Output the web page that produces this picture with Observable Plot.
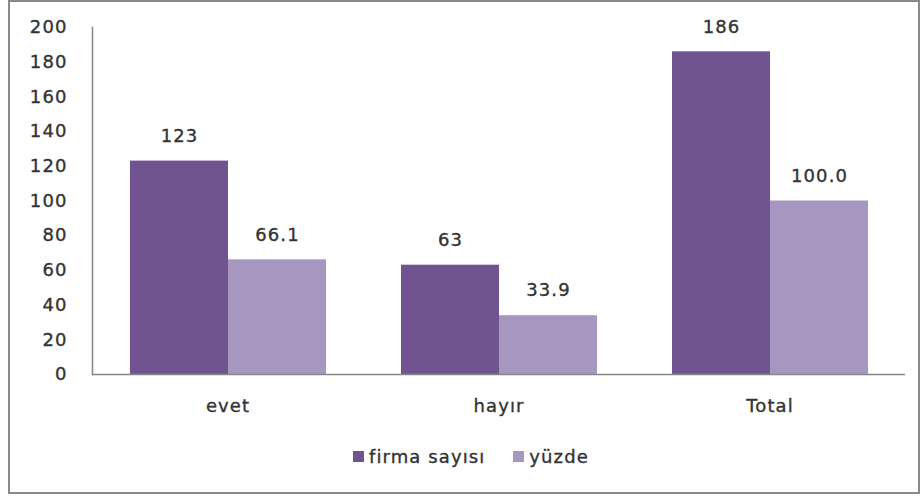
<!DOCTYPE html>
<html>
<head>
<meta charset="utf-8">
<script src="https://cdn.jsdelivr.net/npm/d3@7"></script>
<script src="https://cdn.jsdelivr.net/npm/@observablehq/plot@0.6"></script>
<style>
  html, body { margin: 0; padding: 0; background: #fff; }
  #wrap { position: relative; width: 921px; height: 496px; font-family: "DejaVu Sans", sans-serif; }
  #border { position: absolute; left: 8px; top: 0px; width: 908px; height: 490px; border: 2px solid #8a8a8a; box-sizing: content-box; }
  #chart { position: absolute; left: 0; top: 0; }
  #chart svg text { letter-spacing: 1.1px; stroke: #333; stroke-width: 0.35px; }
  #legend { position: absolute; top: 446px; left: 353px; display: flex; align-items: center; font-size: 18px; letter-spacing: 1.1px; color: #333; -webkit-text-stroke: 0.35px #333; }
  #legend span.item { display: flex; align-items: center; }
  #legend span.sw { display: inline-block; width: 11px; height: 11px; margin-right: 5px; }
</style>
</head>
<body>
<div id="wrap">
  <div id="border"></div>
  <div id="chart"></div>
  <div id="legend"></div>
</div>
<script>
const categories = ["evet", "hayır", "Total"];
const series = ["firma sayısı", "yüzde"];
const firmaSayisi = [123, 63, 186];
const yuzde = [66.1, 33.9, 100.0];
const colors = ["#70548f", "#a797c0"];
const yTicks = [0, 20, 40, 60, 80, 100, 120, 140, 160, 180, 200];

const data = [];
categories.forEach((c, i) => {
  data.push({cat: c, series: series[0], value: firmaSayisi[i], label: String(firmaSayisi[i])});
  data.push({cat: c, series: series[1], value: yuzde[i], label: yuzde[i].toFixed(1)});
});

const chart = Plot.plot({
  width: 921,
  height: 440,
  marginLeft: 92,
  marginRight: 16,
  marginTop: 27,
  marginBottom: 66,
  style: {fontFamily: "DejaVu Sans, sans-serif", fontSize: "18px", color: "#333", background: "transparent"},
  fx: {domain: categories, padding: 0, label: null, axis: "bottom", tickSize: 0, tickPadding: 25},
  x: {domain: series, axis: null, paddingInner: 0, paddingOuter: 0.37},
  y: {domain: [0, 200], ticks: yTicks, label: null, tickSize: 0, tickPadding: 25},
  color: {domain: series, range: colors},
  marks: [
    Plot.barY(data, {fx: "cat", x: "series", y: "value", fill: "series"}),
    Plot.text(data, {fx: "cat", x: "series", y: "value", text: "label", dy: -25, fill: "#333", fontSize: 18}),
    Plot.ruleY([0], {stroke: "#868686", strokeWidth: 1.5}),
    Plot.frame({anchor: "left", facetAnchor: "left", stroke: "#868686", strokeWidth: 1.5})
  ]
});
document.getElementById("chart").appendChild(chart);

const legend = document.getElementById("legend");
series.forEach((s, i) => {
  const item = document.createElement("span");
  item.className = "item";
  if (i > 0) item.style.marginLeft = "28px";
  const sw = document.createElement("span");
  sw.className = "sw";
  sw.style.background = colors[i];
  item.appendChild(sw);
  item.appendChild(document.createTextNode(s));
  legend.appendChild(item);
});
</script>
</body>
</html>
